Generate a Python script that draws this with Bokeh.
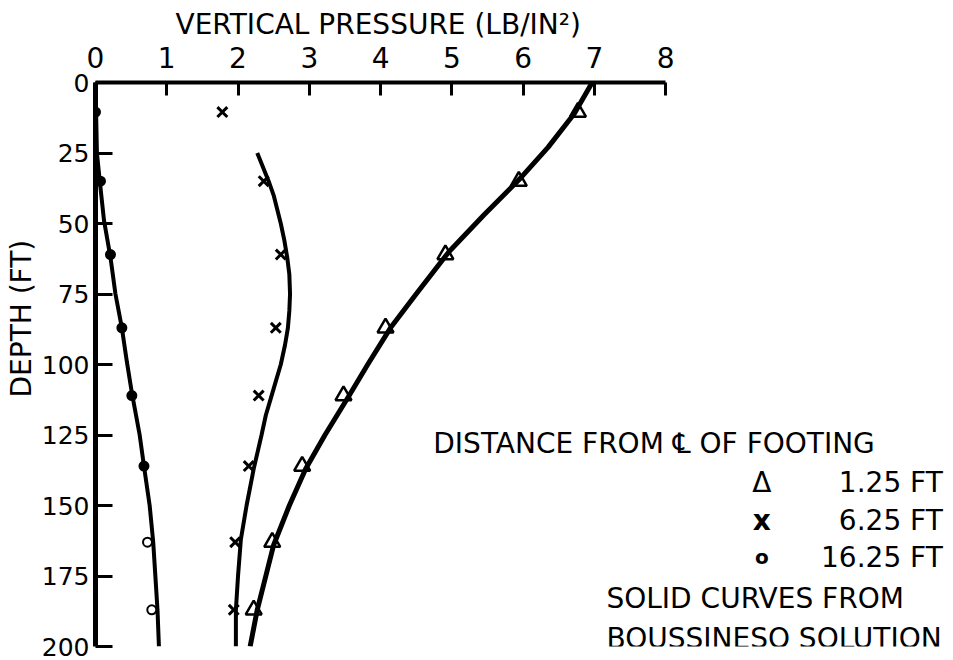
from bokeh.plotting import figure
from bokeh.models import Range1d, FixedTicker, Label, Title
from bokeh.embed import file_html
from bokeh.resources import INLINE

# Depths (ft) at which the measured pressures were taken
depth_pts = [10.5, 35, 61, 87, 111, 136, 163, 187]

# Measured vertical pressure (lb/in^2) by distance from footing centre line
p_1_25 = [6.77, 5.94, 4.91, 4.07, 3.48, 2.90, 2.48, 2.22]
p_6_25 = [1.78, 2.36, 2.60, 2.53, 2.29, 2.15, 1.96, 1.94]
p_16_25 = [0.0, 0.07, 0.21, 0.37, 0.51, 0.68, 0.73, 0.79]

# Boussinesq solution curves
bq_1_25_depth = [0, 11, 23, 34, 47, 60, 75, 87, 100, 111, 125, 137, 150, 164, 175, 187, 200]
bq_1_25 = [6.97, 6.72, 6.35, 5.96, 5.45, 4.96, 4.50, 4.14, 3.82, 3.56, 3.22, 2.95, 2.72, 2.50, 2.39, 2.27, 2.17]

bq_6_25_depth = [25, 35, 40, 50, 56, 62, 68, 75, 81, 87, 93, 100, 106, 112, 118, 125,
                 137, 150, 162, 175, 187, 200]
bq_6_25 = [2.27, 2.43, 2.50, 2.60, 2.65, 2.69, 2.72, 2.73, 2.72, 2.70, 2.66, 2.60, 2.53,
           2.46, 2.39, 2.33, 2.22, 2.12, 2.04, 2.00, 1.97, 1.97]

bq_16_25_depth = [0, 25, 35, 49, 62, 75, 87, 99, 110, 125, 136, 150, 163, 175, 187, 200]
bq_16_25 = [0.0, 0.02, 0.06, 0.12, 0.21, 0.28, 0.37, 0.44, 0.51, 0.62, 0.68, 0.76, 0.81, 0.84, 0.87, 0.89]

x_ticks = [0, 1, 2, 3, 4, 5, 6, 7, 8]
y_ticks = [0, 25, 50, 75, 100, 125, 150, 175, 200]

FONT = "DejaVu Sans"

p = figure(
    width=953, height=660,
    x_range=Range1d(0, 12.04), y_range=Range1d(200, 0),
    x_axis_location="above",
    output_backend="svg", toolbar_location=None,
    min_border_left=95, min_border_top=82, min_border_right=0, min_border_bottom=14,
)
p.outline_line_color = None
p.grid.visible = False
p.background_fill_color = "white"
p.border_fill_color = "white"

# Top pressure axis
xa = p.xaxis[0]
xa.ticker = FixedTicker(ticks=x_ticks)
xa.bounds = (0, 8)
xa.axis_line_width = 4
xa.axis_line_color = "black"
xa.major_tick_line_width = 3
xa.major_tick_in = 13
xa.major_tick_out = 0
xa.minor_tick_line_color = None
xa.major_label_text_font = FONT
xa.major_label_text_font_size = "28px"
xa.major_label_text_color = "black"
xa.major_label_standoff = 15

# Left depth axis
ya = p.yaxis[0]
ya.ticker = FixedTicker(ticks=y_ticks)
ya.bounds = (0, 200)
ya.axis_line_width = 5
ya.axis_line_color = "black"
ya.major_tick_line_width = 3
ya.major_tick_in = 17
ya.major_tick_out = 0
ya.minor_tick_line_color = None
ya.major_label_text_font = FONT
ya.major_label_text_font_size = "25px"
ya.major_label_text_color = "black"
ya.major_label_standoff = 6

# Axis titles
p.add_layout(Title(text="VERTICAL PRESSURE (LB/IN²)", align="left", offset=80,
                   text_font=FONT, text_font_style="normal", text_font_size="28px",
                   text_color="black", standoff=6), "above")
p.add_layout(Title(text="DEPTH (FT)", align="left", offset=249,
                   text_font=FONT, text_font_style="normal", text_font_size="28px",
                   text_color="black", standoff=2), "left")

# Solid Boussinesq curves
p.line(bq_1_25, bq_1_25_depth, line_color="black", line_width=5)
p.line(bq_6_25, bq_6_25_depth, line_color="black", line_width=4)
p.line(bq_16_25, bq_16_25_depth, line_color="black", line_width=4)

# Measured points
p.scatter(p_1_25, depth_pts, marker="triangle", size=16, fill_color=None,
          line_color="black", line_width=2.5)
p.scatter(p_6_25, depth_pts, marker="x", size=14, line_color="black", line_width=3)
dot_fill = ["black"] * 6 + ["white"] * 2
p.scatter(p_16_25, depth_pts, marker="circle", size=9, fill_color=dot_fill,
          line_color="black", line_width=2)

def text(x, y, s, size="28px", align="left", style="normal"):
    p.add_layout(Label(x=x, y=y, text=s, text_font=FONT, text_font_size=size,
                       text_font_style=style, text_color="black",
                       text_align=align, text_baseline="middle"))

# Key
text(4.74, 128.0, "DISTANCE FROM ℄ OF FOOTING")
text(9.35, 141.8, "Δ", align="center")
text(11.89, 141.8, "1.25 FT", align="right")
text(9.35, 155.3, "x", align="center", style="bold")
text(11.89, 155.3, "6.25 FT", align="right")
text(9.35, 168.4, "o", size="20px", align="center", style="bold")
text(11.89, 168.4, "16.25 FT", align="right")
text(7.17, 183.0, "SOLID CURVES FROM")
text(7.17, 197.2, "BOUSSINESQ SOLUTION")

open("out.html", "w").write(file_html(p, INLINE))
